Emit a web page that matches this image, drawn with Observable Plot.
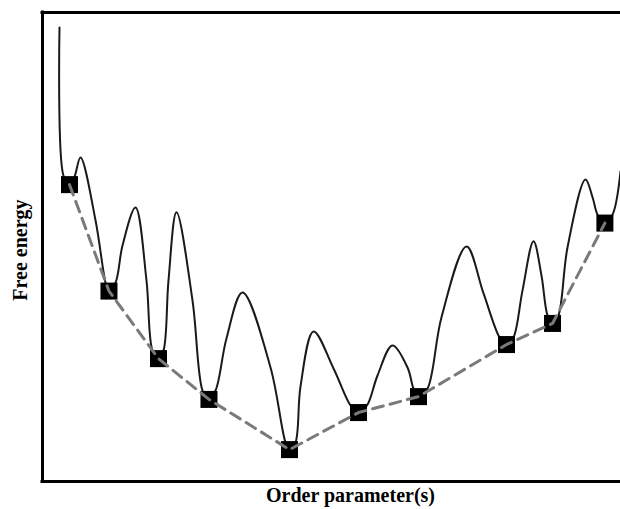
<!DOCTYPE html>
<html>
<head>
<meta charset="utf-8">
<script src="https://cdn.jsdelivr.net/npm/d3@7"></script>
<script src="https://cdn.jsdelivr.net/npm/@observablehq/plot@0.6"></script>
<style>
  html, body { margin: 0; padding: 0; background: #fff; }
  #chart { width: 620px; height: 509px; }
</style>
</head>
<body>
<div id="chart"></div>
<script>
// Free-energy landscape (arbitrary units: order parameter 0–100, free energy 0–100)
const curveX = [2.94, 3.63, 4.67, 5.54, 6.57, 9.17, 10.9, 11.42, 12.63, 13.84, 16.09, 17.99, 19.03, 20.07, 20.93, 21.8, 23.18, 25.95, 27.68, 28.72, 29.93, 31.83, 34.6, 39.45, 42.04, 42.73, 43.77, 44.64, 46.89, 50.35, 53.29, 54.67, 56.23, 57.96, 60.55, 63.15, 64.19, 65.05, 66.61, 69.03, 73.36, 76.3, 79.07, 80.28, 81.49, 83.04, 84.95, 86.33, 87.37, 88.24, 89.27, 90.83, 93.94, 95.16, 96.02, 97.23, 98.62, 100];
const curveY = [96.8, 65.2, 63.3, 65.0, 69.1, 55.7, 42.4, 40.5, 42.4, 50.3, 58.4, 42.9, 27.9, 26.2, 27.9, 42.9, 57.4, 38.6, 19.4, 17.5, 19.4, 30.5, 40.3, 24.3, 8.3, 6.6, 8.3, 20.3, 32.0, 24.1, 16.2, 14.5, 16.4, 22.6, 29.0, 24.3, 19.8, 17.9, 19.8, 35.0, 50.1, 40.1, 30.7, 29.0, 30.7, 40.7, 51.2, 43.9, 35.4, 33.5, 35.4, 49.9, 64.4, 60.6, 56.9, 55.0, 56.9, 66.1];

// local minima (squares)
const minX = [4.67, 11.5, 20.07, 28.8, 42.73, 54.67, 65.05, 80.28, 88.24, 97.3];
const minY = [63.3, 40.6, 26.2, 17.5, 6.8, 14.7, 18.1, 29.2, 33.7, 55.1];

const xLabel = "Order parameter(s)";
const yLabel = "Free energy";

const curve = curveX.map((x, i) => ({x, y: curveY[i]}));
const minima = minX.map((x, i) => ({x, y: minY[i]}));

const font = "'Liberation Serif', 'Times New Roman', 'DejaVu Serif', serif";

const chart = Plot.plot({
  width: 620,
  height: 509,
  marginLeft: 42,
  marginRight: 0,
  marginTop: 12,
  marginBottom: 28,
  style: {background: "#fff", fontFamily: font, overflow: "visible"},
  x: {domain: [0, 100], axis: null},
  y: {domain: [0, 100], axis: null},
  marks: [
    Plot.line(curve, {x: "x", y: "y", curve: "catmull-rom", stroke: "#1a1a1a", strokeWidth: 2}),
    Plot.dot(minima, {x: "x", y: "y", symbol: "square", r: 9.6, fill: "#000", stroke: "none"}),
    Plot.line(minima, {x: "x", y: "y", stroke: "#7a7a7a", strokeWidth: 3, strokeDasharray: "11,7"}),
    Plot.ruleY([0, 100], {stroke: "#000", strokeWidth: 3, strokeLinecap: "square"}),
    Plot.ruleX([0], {stroke: "#000", strokeWidth: 3, strokeLinecap: "square"}),
    Plot.text([xLabel], {frameAnchor: "bottom", textAnchor: "middle", lineAnchor: "middle", text: d => d, dx: 19, dy: 14, fontSize: 20, fontWeight: "bold", fontFamily: font, fill: "#000"}),
    Plot.text([yLabel], {frameAnchor: "left", textAnchor: "middle", lineAnchor: "middle", text: d => d, dx: -22, dy: 3, rotate: -90, fontSize: 20, fontWeight: "bold", fontFamily: font, fill: "#000"})
  ]
});
document.getElementById("chart").appendChild(chart);
</script>
</body>
</html>
